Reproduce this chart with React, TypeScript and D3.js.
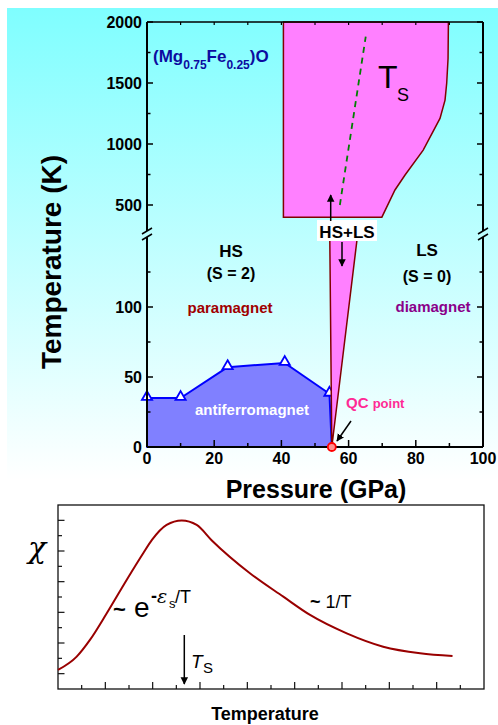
import React from 'react';
import * as d3 from 'd3';

// ---- upper panel: phase diagram ----
const tsBoxP = [40.6, 89.7, 89.6, 89.2, 88.7, 87.2, 82.2, 76.8, 73.8, 69.9, 40.6];
const tsBoxT = [2000, 2000, 1700, 1500, 1360, 1210, 950, 746, 623, 400, 400];
const dashP = [57.4, 65.1];
const dashT = [500, 1880];
const wedgeP = [55, 54.4, 62.6];
const wedgeT = [0, 150, 150];
const afmP = [0, 10, 24, 41, 54.3];
const afmT = [35, 35, 57, 60, 38];
const qcP = 55;

const upperMajor = [500, 1000, 1500, 2000];
const upperMinor = [750, 1250, 1750];
const lowerMajor = [0, 50, 100];
const lowerMinor = [25, 75, 125];
const pMajor = [0, 20, 40, 60, 80, 100];
const pMinor = [10, 30, 50, 70, 90];
const pTop = [10, 20, 30, 40, 50, 60, 70, 80, 90];

// ---- lower panel: susceptibility sketch ----
const chiT = [0, 0.79, 1.35, 2.06, 2.9, 3.6, 3.97, 4.59, 5.23, 5.86, 6.5, 8.11, 9.52, 10.65, 12.2, 13.74, 15.3, 16.67];
const chiV = [1.24, 2.11, 3.2, 4.94, 7.11, 8.85, 9.72, 10.7, 10.99, 10.7, 9.69, 7.55, 6.02, 4.83, 3.63, 2.76, 2.33, 2.15];

const FONT = '"Liberation Sans", Arial, sans-serif';

export default function App() {
  const x = d3.scaleLinear().domain([0, 100]).range([147, 483]);
  const yUp = d3.scaleLinear().domain([500, 2000]).range([205, 22]);
  const yLo = d3.scaleLinear().domain([0, 150]).range([447, 237]);
  const breakTop = 231;

  const tsPath = d3.line<number>().x(i => x(tsBoxP[i])).y(i => yUp(tsBoxT[i]))(d3.range(tsBoxP.length)) + 'Z';
  const wedgePath = d3.line<number>().x(i => x(wedgeP[i])).y(i => yLo(wedgeT[i]))(d3.range(wedgeP.length)) + 'Z';
  const afmPts: [number, number][] = [[0, 0], ...afmP.map((p, i) => [p, afmT[i]] as [number, number]), [qcP, 0]];
  const afmPath = d3.line<[number, number]>().x(d => x(d[0])).y(d => yLo(d[1]))(afmPts) + 'Z';
  const tri = d3.symbol().type(d3.symbolTriangle).size(45)();

  const bx = d3.scaleLinear().domain([0, 18]).range([58, 484]);
  const by = d3.scaleLinear().domain([0, 12]).range([689, 505]);
  const chiPath = d3.line<number>().x(i => bx(chiT[i])).y(i => by(chiV[i])).curve(d3.curveMonotoneX)(d3.range(chiT.length));

  const bold = { fontFamily: FONT, fontWeight: 700 } as const;

  return (
    <svg width={498} height={725} style={{ position: 'absolute', left: 0, top: 0 }}>
      <defs>
        <linearGradient id="bg" x1="0" y1="0" x2="0" y2="1">
          <stop offset="0%" stopColor="#7ffeff" />
          <stop offset="100%" stopColor="#ffffff" />
        </linearGradient>
        <marker id="ah" viewBox="0 0 10 10" refX="9" refY="5" markerWidth="5" markerHeight="6" orient="auto-start-reverse">
          <path d="M0,0 L10,5 L0,10 z" fill="#000" />
        </marker>
      </defs>
      <rect x={0} y={0} width={498} height={725} fill="#fff" />
      <rect x={7} y={8} width={491} height={472} fill="url(#bg)" />

      {/* T_S region */}
      <path d={tsPath} fill="#ff80ff" stroke="#800000" strokeWidth={1.5} />
      <line x1={x(dashP[0])} y1={yUp(dashT[0])} x2={x(dashP[1])} y2={yUp(dashT[1])}
        stroke="#008000" strokeWidth={1.8} strokeDasharray="6,5" />
      <text x={378} y={88} style={{ fontFamily: FONT }} fontSize={32}>T</text>
      <text x={397} y={101} style={{ fontFamily: FONT }} fontSize={18}>S</text>

      {/* antiferromagnet */}
      <path d={afmPath} fill="#8080ff" stroke="#0000ff" strokeWidth={2} strokeLinejoin="round" />
      {afmP.map((p, i) => (
        <path key={i} d={tri!} transform={`translate(${x(p)},${yLo(afmT[i]) - 1})`} fill="#fff" stroke="#0000ff" strokeWidth={1.8} />
      ))}
      {/* HS+LS wedge */}
      <path d={wedgePath} fill="#ff80ff" stroke="#800000" strokeWidth={1.5} />

      {/* frame */}
      <line x1={x(0)} y1={yUp(2000)} x2={x(100)} y2={yUp(2000)} stroke="#000" strokeWidth={1.5} />
      <line x1={x(0)} y1={yLo(0)} x2={x(100)} y2={yLo(0)} stroke="#000" strokeWidth={2} />
      {[x(0), x(100)].map((xx, k) => (
        <g key={k} stroke="#000" strokeWidth={2}>
          <line x1={xx} y1={yUp(2000)} x2={xx} y2={breakTop} />
          <line x1={xx} y1={breakTop + 6} x2={xx} y2={yLo(0)} />
          <line x1={xx - 5} y1={breakTop + 3} x2={xx + 5} y2={breakTop - 3} strokeWidth={1.5} />
          <line x1={xx - 5} y1={breakTop + 9} x2={xx + 5} y2={breakTop + 3} strokeWidth={1.5} />
        </g>
      ))}
      {/* y ticks */}
      {[...upperMajor.map(t => [yUp(t), 6]), ...upperMinor.map(t => [yUp(t), 3.5]),
        ...lowerMajor.map(t => [yLo(t), 6]), ...lowerMinor.map(t => [yLo(t), 3.5])].map(([yy, len], i) => (
        <g key={i} stroke="#000" strokeWidth={1.5}>
          <line x1={x(0)} y1={yy} x2={x(0) + len} y2={yy} />
          <line x1={x(100)} y1={yy} x2={x(100) - len} y2={yy} />
        </g>
      ))}
      {upperMajor.map(t => (
        <text key={t} x={142} y={yUp(t)} dy="0.36em" textAnchor="end" style={bold} fontSize={16}>{t}</text>
      ))}
      {lowerMajor.map(t => (
        <text key={t} x={142} y={yLo(t)} dy="0.36em" textAnchor="end" style={bold} fontSize={16}>{t}</text>
      ))}
      {/* x ticks */}
      {pMajor.map(p => <line key={'M' + p} x1={x(p)} y1={yLo(0)} x2={x(p)} y2={yLo(0) - 7} stroke="#000" strokeWidth={1.5} />)}
      {pMinor.map(p => <line key={'m' + p} x1={x(p)} y1={yLo(0)} x2={x(p)} y2={yLo(0) - 4} stroke="#000" strokeWidth={1.5} />)}
      {pTop.map(p => <line key={'t' + p} x1={x(p)} y1={yUp(2000)} x2={x(p)} y2={yUp(2000) + 3} stroke="#000" strokeWidth={1.2} />)}
      {pMajor.map(p => (
        <text key={p} x={x(p)} y={464} textAnchor="middle" style={bold} fontSize={16}>{p}</text>
      ))}

      {/* axis titles */}
      <text transform="translate(61,262) rotate(-90)" textAnchor="middle" style={bold} fontSize={28}>Temperature  (K)</text>
      <text x={316} y={498} textAnchor="middle" style={bold} fontSize={25}>Pressure (GPa)</text>

      {/* labels */}
      <text x={153} y={62} style={bold} fill="#0c0ca0" fontSize={17}>
        (Mg<tspan fontSize={12} dy={7}>0.75</tspan><tspan dy={-7}>Fe</tspan><tspan fontSize={12} dy={7}>0.25</tspan><tspan dy={-7}>)O</tspan>
      </text>
      <text x={231} y={257} textAnchor="middle" style={bold} fontSize={17}>HS</text>
      <text x={231} y={279} textAnchor="middle" style={bold} fontSize={16}>(S = 2)</text>
      <text x={230} y={313} textAnchor="middle" style={bold} fill="#a00000" fontSize={15}>paramagnet</text>
      <text x={427} y={256} textAnchor="middle" style={bold} fontSize={17}>LS</text>
      <text x={427} y={282} textAnchor="middle" style={bold} fontSize={16}>(S = 0)</text>
      <text x={433} y={312} textAnchor="middle" style={bold} fill="#8a008a" fontSize={15}>diamagnet</text>
      <text x={252} y={415} textAnchor="middle" style={bold} fill="#ffffff" fontSize={15}>antiferromagnet</text>

      {/* HS+LS label and arrows */}
      <rect x={317} y={220} width={60} height={21} fill="#fff" />
      <text x={347} y={238} textAnchor="middle" style={bold} fontSize={17}>HS+LS</text>
      <line x1={330.7} y1={221} x2={330.7} y2={195} stroke="#000" strokeWidth={1.5} markerEnd="url(#ah)" />
      <line x1={342} y1={242} x2={342} y2={266} stroke="#000" strokeWidth={1.5} markerEnd="url(#ah)" />

      {/* QC point */}
      <text x={346} y={408} style={bold} fill="#ff2a95" fontSize={15}>QC <tspan fontSize={13}>point</tspan></text>
      <line x1={351} y1={421} x2={337} y2={441} stroke="#000" strokeWidth={1.5} markerEnd="url(#ah)" />
      <circle cx={x(qcP)} cy={yLo(0)} r={4} fill="#ff9090" stroke="#ff0000" strokeWidth={1.8} />

      {/* ---- lower panel ---- */}
      <rect x={58} y={505} width={426} height={184} fill="none" stroke="#111" strokeWidth={1.3} />
      {d3.range(1, 18).map(i => (
        <line key={'bx' + i} x1={bx(i)} y1={689} x2={bx(i)} y2={689 - (i % 2 === 0 ? 7 : 4)} stroke="#111" strokeWidth={1.2} />
      ))}
      {d3.range(1, 12).map(i => (
        <line key={'by' + i} x1={58} y1={by(i)} x2={58 + (i % 2 === 1 ? 6.5 : 4)} y2={by(i)} stroke="#111" strokeWidth={1.2} />
      ))}
      <path d={chiPath!} fill="none" stroke="#990000" strokeWidth={2} />

      <text x={37} y={558} textAnchor="middle" fontFamily='"DejaVu Serif", serif' fontStyle="italic" fontSize={30}>χ</text>
      <text x={113} y={617} style={bold} fontSize={22}>~</text>
      <text x={134} y={617} fontFamily={FONT} fontSize={28}>e</text>
      <text x={151} y={602} style={bold} fontSize={18}>-</text>
      <text x={157} y={603} fontFamily='"DejaVu Serif", serif' fontStyle="italic" fontSize={19}>ε</text>
      <text x={169} y={608} fontFamily={FONT} fontSize={13}>s</text>
      <text x={175} y={603} fontFamily={FONT} fontSize={18}>/T</text>
      <text x={310} y={608} fontFamily={FONT} fontSize={18}><tspan fontWeight={700}>~</tspan> 1/T</text>

      <line x1={184.3} y1={635} x2={184.3} y2={684} stroke="#000" strokeWidth={1.5} markerEnd="url(#ah)" />
      <text x={191} y={668} fontFamily={FONT} fontStyle="italic" fontSize={19}>T</text>
      <text x={203} y={673} fontFamily={FONT} fontSize={15}>S</text>

      <text x={265} y={720} textAnchor="middle" style={bold} fontSize={18}>Temperature</text>
    </svg>
  );
}
